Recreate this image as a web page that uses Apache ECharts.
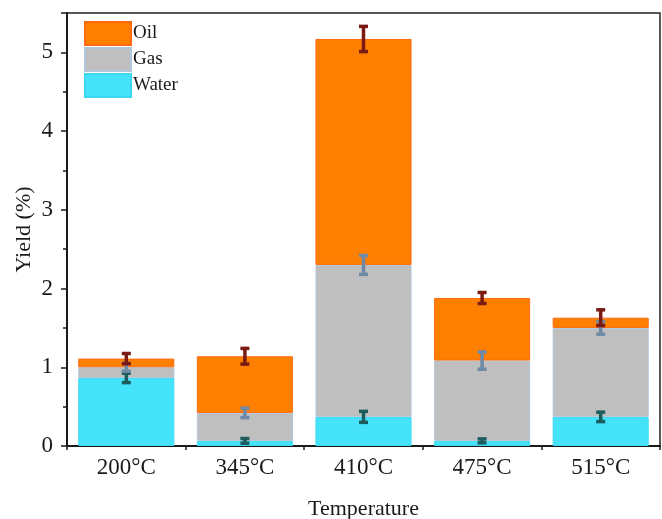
<!DOCTYPE html>
<html><head><meta charset="utf-8">
<script src="https://cdn.jsdelivr.net/npm/echarts@6/dist/echarts.min.js"></script>
<style>html,body{margin:0;padding:0;background:#fff}#c{width:662px;height:519px}</style>
</head><body><div id="c"></div>
<script>
const categories = ['200°C','345°C','410°C','475°C','515°C'];
const water = [0.865, 0.065, 0.37, 0.065, 0.37];
const gas = [0.135, 0.355, 1.93, 1.02, 1.13];
const oil = [0.11, 0.72, 2.87, 0.795, 0.13];
const waterErr = [0.06, 0.03, 0.07, 0.025, 0.06];
const gasErr = [0.05, 0.06, 0.12, 0.11, 0.08];
const oilErr = [0.065, 0.1, 0.16, 0.07, 0.1];

const FONT = '"Liberation Serif", "Times New Roman", serif';
const waterTop = water.map(v => v);
const gasTop = water.map((v, i) => v + gas[i]);
const oilTop = gasTop.map((v, i) => v + oil[i]);
function errData(tops, errs) {
  return tops.map((t, i) => [i, t - errs[i], t + errs[i]]);
}
function errRender(color) {
  return function (params, api) {
    const x = api.value(0), lo = api.value(1), hi = api.value(2);
    const a = api.coord([x, lo]), b = api.coord([x, hi]);
    const hw = 4.5;
    const st = { stroke: color, lineWidth: 3.5 };
    return { type: 'group', children: [
      { type: 'line', shape: { x1: a[0], y1: a[1], x2: b[0], y2: b[1] }, style: st },
      { type: 'line', shape: { x1: a[0] - hw, y1: a[1], x2: a[0] + hw, y2: a[1] }, style: st },
      { type: 'line', shape: { x1: b[0] - hw, y1: b[1], x2: b[0] + hw, y2: b[1] }, style: st }
    ]};
  };
}
const chart = echarts.init(document.getElementById('c'));
chart.setOption({
  animation: false,
  backgroundColor: '#fff',
  grid: { left: 67, right: 2, top: 13, bottom: 73, show: true, borderColor: '#222', borderWidth: 1.5,
    outerBoundsMode: 'none', containLabel: false },
  legend: {
    orient: 'vertical', left: 84, top: 21, padding: 0, itemWidth: 46, itemHeight: 23, itemGap: 1,
    icon: 'rect',
    data: ['Oil', 'Gas', 'Water'],
    textStyle: { fontFamily: FONT, fontSize: 19, color: '#1a1a1a', padding: [0, 0, 0, -3] }
  },
  xAxis: [{
    type: 'category', data: categories,
    axisLine: { lineStyle: { color: '#1a1a1a', width: 2 } },
    axisTick: { alignWithLabel: true, length: 6, lineStyle: { color: '#1a1a1a', width: 1.5 } },
    axisLabel: { fontFamily: FONT, fontSize: 23, color: '#1a1a1a', margin: 10 },
    name: 'Temperature', nameLocation: 'middle', nameGap: 52, nameMoveOverlap: false,
    nameTextStyle: { fontFamily: FONT, fontSize: 22, color: '#1a1a1a' }
  }, {
    type: 'category', data: categories, position: 'bottom',
    axisLine: { show: false },
    axisTick: { show: true, length: 4, lineStyle: { color: '#1a1a1a', width: 1.5 } },
    axisLabel: { show: false }
  }],
  yAxis: {
    type: 'value', min: 0, max: 5.5, interval: 1,
    axisLine: { show: true, lineStyle: { color: '#1a1a1a', width: 2 } },
    axisTick: { show: true, length: 6, lineStyle: { color: '#1a1a1a', width: 1.5 } },
    minorTick: { show: true, splitNumber: 2, length: 4, lineStyle: { color: '#1a1a1a', width: 1.5 } },
    splitLine: { show: false },
    axisLabel: { fontFamily: FONT, fontSize: 23, color: '#1a1a1a', margin: 14,
      formatter: v => (Number.isInteger(v) ? String(v) : '') },
    name: 'Yield (%)', nameLocation: 'middle', nameGap: 32, nameMoveOverlap: false,
    nameTextStyle: { fontFamily: FONT, fontSize: 22, color: '#1a1a1a' }
  },
  series: [
    { name: 'Water', type: 'bar', stack: 't', data: water, barWidth: '81%',
      itemStyle: { color: '#45E3F9', borderColor: '#3fd8f0', borderWidth: 1 } },
    { name: 'Gas', type: 'bar', stack: 't', data: gas,
      itemStyle: { color: '#BFBFBF', borderColor: '#b4c6da', borderWidth: 1 } },
    { name: 'Oil', type: 'bar', stack: 't', data: oil,
      itemStyle: { color: '#FF7F00', borderColor: '#ff6a10', borderWidth: 1 } },
    { type: 'custom', renderItem: errRender('#1d5c5c'), data: errData(waterTop, waterErr), z: 5,
      encode: { x: 0, y: [1, 2] } },
    { type: 'custom', renderItem: errRender('#6f8aa6'), data: errData(gasTop, gasErr), z: 5,
      encode: { x: 0, y: [1, 2] } },
    { type: 'custom', renderItem: errRender('#7a1a12'), data: errData(oilTop, oilErr), z: 5,
      encode: { x: 0, y: [1, 2] } }
  ]
});
</script></body></html>
